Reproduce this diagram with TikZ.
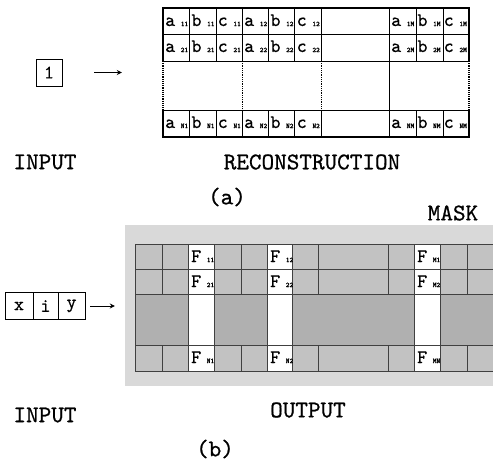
\documentclass[tikz,border=0pt]{standalone}
\usepackage{fontspec}
\newfontfamily\heavytt[Extension=.otf, FakeBold=0.7]{lmmono10-regular}
\newfontfamily\tinytt[Extension=.otf, FakeBold=2]{lmmono10-regular}
\usetikzlibrary{arrows.meta}

\tikzset{
  lbl/.style={inner sep=0pt, font=\heavytt\fontsize{24}{26}\selectfont},
  inbox/.style={draw, line width=0.9pt, minimum height=27pt, inner sep=0pt,
    font=\heavytt\fontsize{19}{20}\selectfont},
  cellbox/.style={anchor=base west, inner sep=0pt, text width=23pt, align=left},
  feed/.style={line width=0.8pt, -{Stealth[length=5pt,width=5pt]}},
  gline/.style={line width=0.8pt},
  edge/.style={line width=1.2pt},
}
\newcommand{\cellch}[1]{{\heavytt\fontsize{19}{20}\selectfont #1}}
\newcommand{\cellsub}[1]{{\tinytt\fontsize{7}{7}\selectfont #1}}

\begin{document}
\begin{tikzpicture}[x=1pt, y=-1pt]
\useasboundingbox (0,0) rectangle (493,463);

% (a) reconstruction
\node[inbox, minimum width=26pt] (in1) at (49,72.5) {1};
\node[minimum width=306pt, minimum height=129pt, inner sep=0pt] (recon) at (316,72.5) {};
\draw[edge] (163,61) -- (163,8) -- (469,8) -- (469,61);
\draw[edge] (163,110) -- (163,137) -- (469,137) -- (469,110);
\draw[edge, densely dotted] (163,61) -- (163,110);
\draw[edge, densely dotted] (469,61) -- (469,110);
\foreach \y in {34,61,110} \draw[gline] (163,\y) -- (469,\y);
\foreach \x in {189,216,242,268,294,321,389,416,443} {
  \draw[gline] (\x,8) -- (\x,61);
  \draw[gline] (\x,110) -- (\x,137);
}
\foreach \x in {242,321} \draw[gline, densely dotted] (\x,61) -- (\x,110);
\draw[gline] (389,61) -- (389,110);
\foreach \ytop/\i in {8/1,34/2,110/N}
  \foreach \xo/\j in {163/1,242/2,389/M}
    \foreach \ch [count=\k from 0] in {a,b,c}
      \node[cellbox] (\ch\i\j) at (\xo+\k*26.3+2,\ytop+18) {\cellch{\ch}\hfill\cellsub{\i\j}};
\draw[feed, shorten <=32pt, shorten >=41pt] (in1.east) -- (in1.east -| recon.west);

\node[lbl] (inA) at (45,162) {INPUT};
\node[lbl] (reconA) at (312,162) {RECONSTRUCTION};
\node[lbl] (capA) at (227,197) {(a)};

% (b) output through the mask
\node[lbl] (maskA) at (453,213) {MASK};
\node[fill=gray!30, minimum width=368pt, minimum height=161pt, inner sep=0pt] (mask) at (309,305.5) {};
\fill[gray!48] (135,244) rectangle (493,294);
\fill[gray!48] (135,345) rectangle (493,371);
\fill[gray!62] (135,294) rectangle (493,345);
\foreach \x in {188,267,414} \fill[white] (\x,244) rectangle (\x+26,371);
\foreach \y in {244,269,294,345,371} \draw[gline, black!75] (135,\y) -- (493,\y);
\foreach \x in {135,162,188,214,241,267,292,318,388,414,440,467} {
  \draw[gline, black!75] (\x,244) -- (\x,294);
  \draw[gline, black!75] (\x,345) -- (\x,371);
}
\foreach \x in {135,188,214,267,292,414,440} \draw[gline, black!75] (\x,294) -- (\x,345);
\foreach \xo/\j in {188/1,267/2}
  \foreach \ytop/\i in {244/1,269/2,345/N}
    \node[cellbox] (F\i\j) at (\xo+3,\ytop+18) {\cellch{F}\hfill\cellsub{\i\j}};
\foreach \ytop/\s in {244/M1,269/M2,345/MN}
  \node[cellbox] (F\s) at (417,\ytop+18) {\cellch{F}\hfill\cellsub{\s}};

\node[inbox, minimum width=28pt] (inx) at (19,306) {x};
\node[inbox, minimum width=25pt] (ini) at (45.5,306) {i};
\node[inbox, minimum width=27pt] (iny) at (71.5,306) {y};
\draw[feed, shorten <=5pt, shorten >=10pt] (iny.east) -- (iny.east -| mask.west);

\node[lbl] (inB) at (45,415) {INPUT};
\node[lbl] (outB) at (308,410) {OUTPUT};
\node[lbl] (capB) at (215,449) {(b)};
\end{tikzpicture}
\end{document}
